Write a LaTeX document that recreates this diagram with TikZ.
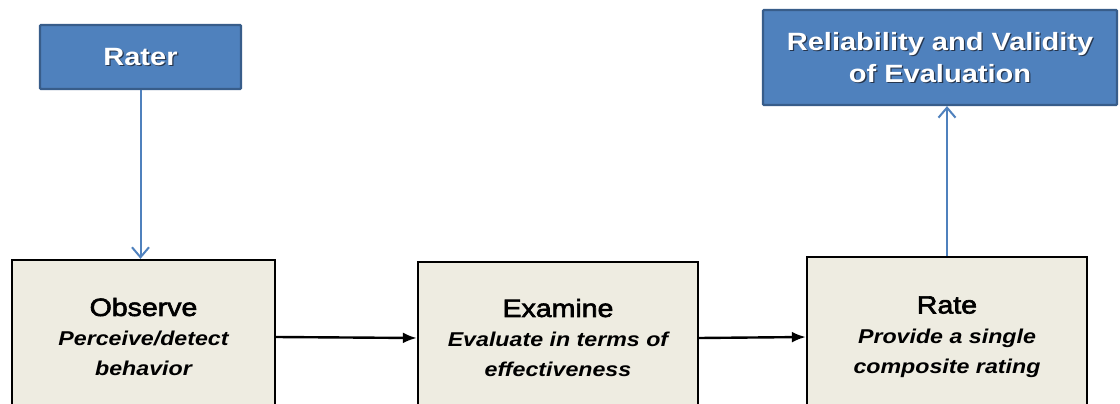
\documentclass[tikz,border=0pt]{standalone}
\usepackage{fontspec}
\setmainfont{Liberation Sans}[FakeStretch=1.16]
\newfontfamily\stagetitle{Liberation Sans}[FakeStretch=1.14, FakeBold=2.5]
\usetikzlibrary{arrows.meta,calc}
\definecolor{boxblue}{HTML}{4F81BD}
\definecolor{boxblueedge}{HTML}{385D8A}
\definecolor{stagefill}{HTML}{EEECE1}
\definecolor{textshadow}{HTML}{26364E}
\begin{document}
\begin{tikzpicture}[x=1pt,y=-1pt,
  bluebox/.style={draw=boxblueedge, fill=boxblue, line width=2.2pt, inner sep=0pt, rounded corners=1pt},
  bluetext/.style={text=white, align=center, inner sep=0pt, font=\fontsize{25}{32}\selectfont\bfseries},
  shadowtext/.style={bluetext, text=textshadow},
  stagebox/.style={draw=black, fill=stagefill, line width=2.4pt, align=center, inner sep=0pt,
                   font=\fontsize{20}{30}\selectfont\bfseries\itshape},
  bluearrow/.style={draw=boxblue, line width=2pt, -{Straight Barb[length=10pt,width=17pt,line width=2pt]}},
  blackarrow/.style={draw=black, line width=2.4pt, -{Latex[length=14pt,width=11pt]}}
]
\useasboundingbox (0,0) rectangle (1120,404);
\clip (0,0) rectangle (1120,404);
\fill[white] (0,0) rectangle (1120,404);

% top row: source and outcome
\node[bluebox, minimum width=201pt, minimum height=64pt] (rater) at (140.5,57) {};
\node[shadowtext] (ratershadow) at ($(rater)+(1.3,1.3)$) {Rater};
\node[bluetext] (ratertext) at (rater) {Rater};

\node[bluebox, minimum width=354pt, minimum height=95pt] (rel) at (940,57.5) {};
\node[shadowtext] (relshadow) at ($(rel)+(1.3,1.3)$) {Reliability and Validity\\of Evaluation};
\node[bluetext] (reltext) at (rel) {Reliability and Validity\\of Evaluation};

% bottom row: the three stages
\node[stagebox, minimum width=263pt, minimum height=154pt] (obs) at (143.5,337)
  {{\fontsize{25}{30}\stagetitle\mdseries\upshape Observe}\\Perceive/detect\\behavior};
\node[stagebox, minimum width=280pt, minimum height=152pt] (exam) at (558,338)
  {{\fontsize{25}{30}\stagetitle\mdseries\upshape Examine}\\Evaluate in terms of\\effectiveness};
\node[stagebox, minimum width=280pt, minimum height=160pt] (rate) at (947,337)
  {{\fontsize{25}{30}\stagetitle\mdseries\upshape Rate}\\Provide a single\\composite rating};

% connectors
\draw[bluearrow] (rater.south) -- (rater.south |- obs.north);
\draw[bluearrow] (rate.north) -- (rate.north |- rel.south);
\draw[blackarrow] (obs.east) -- (exam.west);
\draw[blackarrow] (exam.east) -- (rate.west);
\end{tikzpicture}
\end{document}
